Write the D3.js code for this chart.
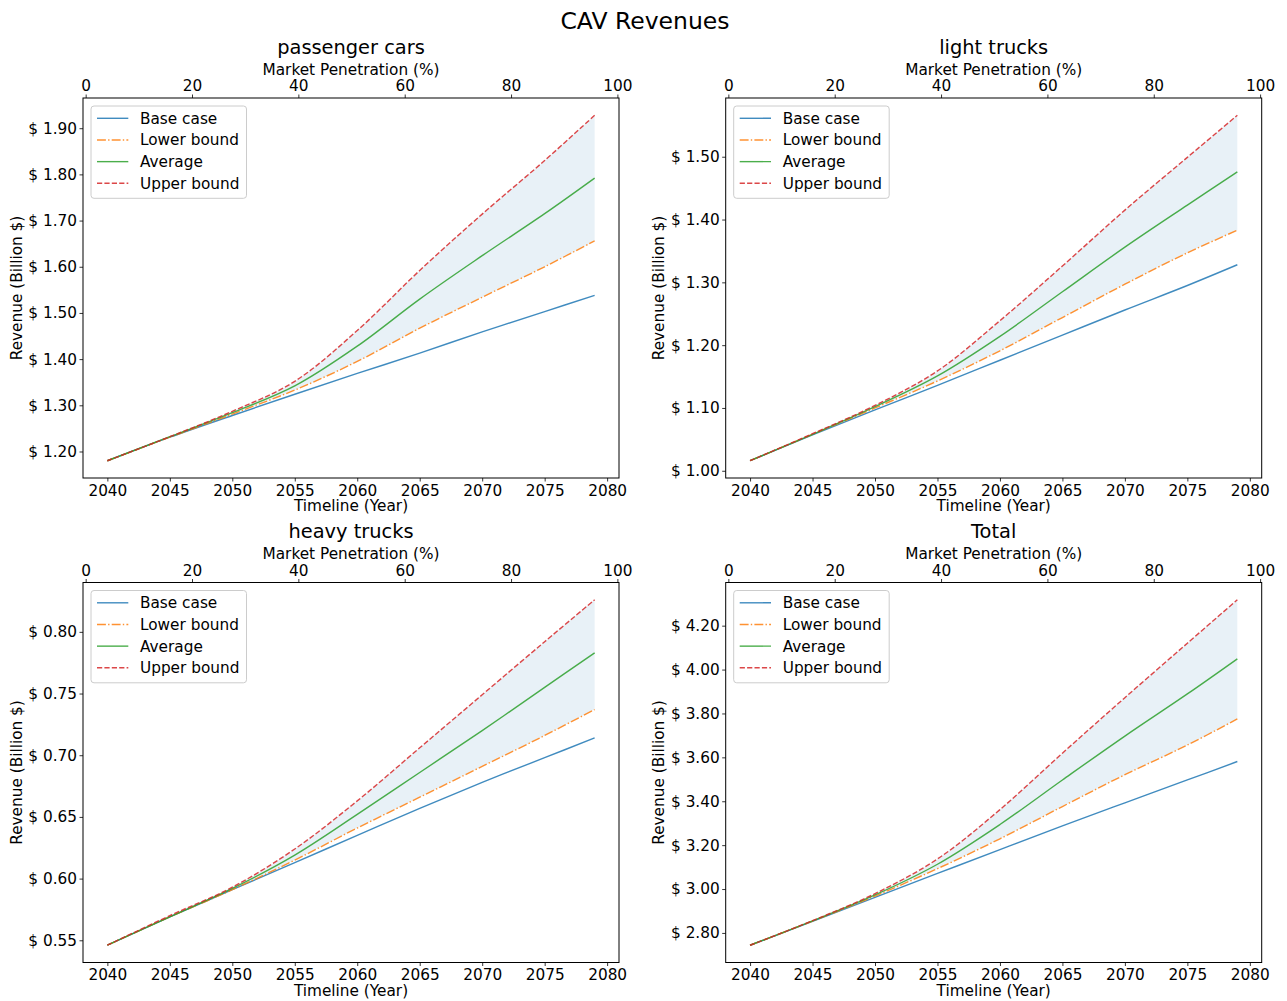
<!DOCTYPE html>
<html>
<head>
<meta charset="utf-8">
<script src="https://cdn.jsdelivr.net/npm/d3@7"></script>
<style>
  body { margin: 0; background: #fff; }
  text { font-family: "DejaVu Sans", sans-serif; fill: #000; }
</style>
</head>
<body>
<script>
// values, one point every 5 years (plus the last year)
const years = [2040, 2045, 2050, 2055, 2060, 2065, 2070, 2075, 2079];

const passengerBase = [1.180, 1.231, 1.278, 1.324, 1.369, 1.413, 1.459, 1.503, 1.538];
const passengerLower = [1.180, 1.231, 1.281, 1.333, 1.395, 1.467, 1.534, 1.600, 1.656];
const passengerAverage = [1.180, 1.232, 1.284, 1.342, 1.428, 1.530, 1.624, 1.715, 1.792];
const passengerUpper = [1.180, 1.232, 1.287, 1.352, 1.462, 1.592, 1.714, 1.830, 1.928];

const lightBase = [1.016, 1.057, 1.097, 1.136, 1.176, 1.216, 1.256, 1.295, 1.328];
const lightLower = [1.016, 1.058, 1.100, 1.143, 1.191, 1.244, 1.297, 1.347, 1.383];
const lightAverage = [1.016, 1.058, 1.102, 1.151, 1.214, 1.285, 1.356, 1.423, 1.476];
const lightUpper = [1.016, 1.059, 1.104, 1.159, 1.239, 1.326, 1.415, 1.499, 1.566];

const heavyBase = [0.546, 0.569, 0.591, 0.613, 0.635, 0.657, 0.678, 0.698, 0.714];
const heavyLower = [0.546, 0.569, 0.591, 0.615, 0.641, 0.666, 0.691, 0.716, 0.737];
const heavyAverage = [0.546, 0.569, 0.592, 0.619, 0.652, 0.686, 0.720, 0.755, 0.783];
const heavyUpper = [0.546, 0.570, 0.593, 0.624, 0.663, 0.706, 0.749, 0.792, 0.826];

const totalBase = [2.744, 2.853, 2.962, 3.071, 3.180, 3.288, 3.393, 3.497, 3.581];
const totalLower = [2.744, 2.854, 2.968, 3.093, 3.229, 3.376, 3.521, 3.656, 3.775];
const totalAverage = [2.744, 2.855, 2.973, 3.113, 3.294, 3.497, 3.697, 3.889, 4.049];
const totalUpper = [2.744, 2.856, 2.979, 3.137, 3.362, 3.619, 3.872, 4.120, 4.318];

const panelTitles = ["passenger cars", "light trucks", "heavy trucks", "Total"];
const seriesNames = ["Base case", "Lower bound", "Average", "Upper bound"];

const yearTicks = [2040, 2045, 2050, 2055, 2060, 2065, 2070, 2075, 2080];
const penetrationTicks = [0, 20, 40, 60, 80, 100];
const passengerTicks = [1.2, 1.3, 1.4, 1.5, 1.6, 1.7, 1.8, 1.9];
const lightTicks = [1.0, 1.1, 1.2, 1.3, 1.4, 1.5];
const heavyTicks = [0.55, 0.6, 0.65, 0.7, 0.75, 0.8];
const totalTicks = [2.8, 3.0, 3.2, 3.4, 3.6, 3.8, 4.0, 4.2];

// styles
const seriesColors = ["#1f77b4", "#ff7f0e", "#2ca02c", "#d62728"];
const seriesDash = [null, "8.9,2.2,1.4,2.2", null, "5.2,2.2"];
const lineWidth = 1.4;
const fontSize = 15.3;

const svg = d3
  .select("body")
  .append("svg")
  .attr("width", 1287)
  .attr("height", 1001);

svg
  .append("text")
  .attr("x", 645)
  .attr("y", 28.5)
  .attr("text-anchor", "middle")
  .attr("font-size", 23.5)
  .text("CAV Revenues");

const panelW = 536;
const panelH = 380;

const panels = [
  { left: 83, top: 98, series: [passengerBase, passengerLower, passengerAverage, passengerUpper], ticks: passengerTicks },
  { left: 725.7, top: 98, series: [lightBase, lightLower, lightAverage, lightUpper], ticks: lightTicks },
  { left: 83, top: 582.5, series: [heavyBase, heavyLower, heavyAverage, heavyUpper], ticks: heavyTicks },
  { left: 725.7, top: 582.5, series: [totalBase, totalLower, totalAverage, totalUpper], ticks: totalTicks },
];

function styleAxis(g) {
  g.select(".domain").remove();
  g.selectAll(".tick line").attr("stroke", "#000").attr("stroke-width", 0.8);
  g.selectAll(".tick text")
    .attr("font-size", fontSize)
    .attr("font-family", "DejaVu Sans, sans-serif")
    .attr("fill", "#000");
}

const curve = d3.curveCatmullRom.alpha(0.5);

panels.forEach((p, i) => {
  const g = svg.append("g").attr("transform", `translate(${p.left},${p.top})`);

  // matplotlib-like 5% margins
  const [x0, x1] = d3.extent(years);
  const xPad = (x1 - x0) * 0.05;
  const x = d3.scaleLinear().domain([x0 - xPad, x1 + xPad]).range([0, panelW]);

  const allValues = p.series.flat();
  const [y0, y1] = d3.extent(allValues);
  const yPad = (y1 - y0) * 0.05;
  const y = d3.scaleLinear().domain([y0 - yPad, y1 + yPad]).range([panelH, 0]);

  const xTop = d3.scaleLinear().domain([-0.5, 100.3]).range([0, panelW]);

  const rows = years.map((yr, j) => ({
    year: yr,
    lower: p.series[1][j],
    upper: p.series[3][j],
  }));

  const area = d3
    .area()
    .x((d) => x(d.year))
    .y0((d) => y(d.lower))
    .y1((d) => y(d.upper))
    .curve(curve);

  g.append("path")
    .datum(rows)
    .attr("d", area)
    .attr("fill", "#1f77b4")
    .attr("fill-opacity", 0.1);

  p.series.forEach((values, k) => {
    const line = d3
      .line()
      .x((d, j) => x(years[j]))
      .y((d) => y(d))
      .curve(curve);

    g.append("path")
      .datum(values)
      .attr("d", line)
      .attr("fill", "none")
      .attr("stroke", seriesColors[k])
      .attr("stroke-opacity", 0.85)
      .attr("stroke-width", lineWidth)
      .attr("stroke-dasharray", seriesDash[k]);
  });

  g.append("g")
    .attr("transform", `translate(0,${panelH})`)
    .call(d3.axisBottom(x).tickValues(yearTicks).tickSize(3.5).tickPadding(3.2).tickFormat(d3.format("d")))
    .call(styleAxis);

  g.append("g")
    .call(d3.axisTop(xTop).tickValues(penetrationTicks).tickSize(3.5).tickPadding(3.5).tickFormat(d3.format("d")))
    .call(styleAxis);

  g.append("g")
    .call(
      d3
        .axisLeft(y)
        .tickValues(p.ticks)
        .tickSize(3.5)
        .tickPadding(2.5)
        .tickFormat((d) => "$ " + d3.format(".2f")(d)),
    )
    .call(styleAxis);

  g.append("rect")
    .attr("width", panelW)
    .attr("height", panelH)
    .attr("fill", "none")
    .attr("stroke", "#000")
    .attr("stroke-width", 1);

  g.append("text")
    .attr("x", panelW / 2)
    .attr("y", -44.5)
    .attr("text-anchor", "middle")
    .attr("font-size", 19.4)
    .text(panelTitles[i]);

  g.append("text")
    .attr("x", panelW / 2)
    .attr("y", -23.5)
    .attr("text-anchor", "middle")
    .attr("font-size", fontSize)
    .text("Market Penetration (%)");

  g.append("text")
    .attr("x", panelW / 2)
    .attr("y", panelH + 33.3)
    .attr("text-anchor", "middle")
    .attr("font-size", fontSize)
    .text("Timeline (Year)");

  g.append("text")
    .attr("transform", `translate(-61.5,${panelH / 2}) rotate(-90)`)
    .attr("text-anchor", "middle")
    .attr("font-size", fontSize)
    .text("Revenue (Billion $)");

  // legend
  const legend = g.append("g").attr("transform", "translate(8,8)");
  legend
    .append("rect")
    .attr("width", 155.5)
    .attr("height", 92.3)
    .attr("rx", 3)
    .attr("fill", "#fff")
    .attr("fill-opacity", 0.8)
    .attr("stroke", "#cccccc")
    .attr("stroke-width", 1);

  seriesNames.forEach((name, k) => {
    const ly = 12.3 + k * 21.67;
    legend
      .append("line")
      .attr("x1", 6)
      .attr("x2", 37.3)
      .attr("y1", ly)
      .attr("y2", ly)
      .attr("stroke", seriesColors[k])
      .attr("stroke-opacity", 0.85)
      .attr("stroke-width", lineWidth)
      .attr("stroke-dasharray", seriesDash[k]);
    legend
      .append("text")
      .attr("x", 49)
      .attr("y", ly)
      .attr("dy", "0.36em")
      .attr("font-size", fontSize)
      .text(name);
  });
});
</script>
</body>
</html>
